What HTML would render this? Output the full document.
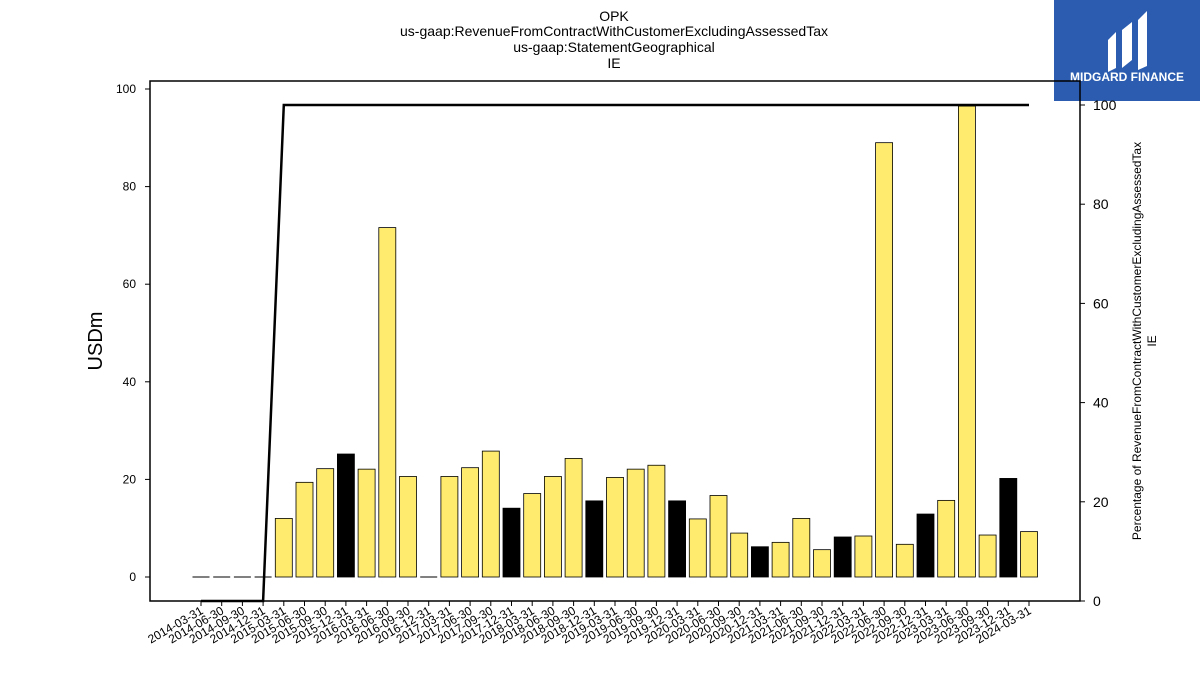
<!DOCTYPE html>
<html><head><meta charset="utf-8"><style>
body{margin:0;background:#fff;}
svg{display:block;font-family:"Liberation Sans","DejaVu Sans",sans-serif;}
</style></head><body>
<svg id="chart" width="1200" height="675" viewBox="0 0 1200 675">
<g font-size="14" text-anchor="middle" fill="#000">
<text x="614" y="21">OPK</text>
<text x="614" y="36">us-gaap:RevenueFromContractWithCustomerExcludingAssessedTax</text>
<text x="614" y="52">us-gaap:StatementGeographical</text>
<text x="614" y="68">IE</text>
</g>
<g>
<rect x="1054" y="0" width="146" height="101" fill="#2b5caf"/>
<path d="M1108 40 L1116 32 L1116 68 L1108 72 Z M1122 30 L1132 22 L1132 60 L1122 68 Z M1138 20 L1147 11 L1147 66 L1138 70 Z" fill="#fff"/>
<text x="1127" y="81" font-size="12" font-weight="bold" fill="#fff" text-anchor="middle">MIDGARD FINANCE</text>
</g>
<rect x="150" y="81" width="930" height="520" fill="none" stroke="#000" stroke-width="1.5"/>
<g id="bars"></g>
<g id="xaxis"></g>
<g id="yleft"></g>
<g id="yright"></g>
<path id="line" fill="none" stroke="#000" stroke-width="2.5"/>
<text x="102" y="341" font-size="20" text-anchor="middle" transform="rotate(-90 102 341)">USDm</text>
<text x="1141" y="341" font-size="12" text-anchor="middle" transform="rotate(-90 1141 341)">Percentage of RevenueFromContractWithCustomerExcludingAssessedTax</text>
<text x="1156" y="341" font-size="12" text-anchor="middle" transform="rotate(-90 1156 341)">IE</text>
</svg>
<script>
const categories=["2014-03-31","2014-06-30","2014-09-30","2014-12-31","2015-03-31","2015-06-30","2015-09-30","2015-12-31","2016-03-31","2016-06-30","2016-09-30","2016-12-31","2017-03-31","2017-06-30","2017-09-30","2017-12-31","2018-03-31","2018-06-30","2018-09-30","2018-12-31","2019-03-31","2019-06-30","2019-09-30","2019-12-31","2020-03-31","2020-06-30","2020-09-30","2020-12-31","2021-03-31","2021-06-30","2021-09-30","2021-12-31","2022-03-31","2022-06-30","2022-09-30","2022-12-31","2023-03-31","2023-06-30","2023-09-30","2023-12-31","2024-03-31"];
const values=[0,0,0,0,12,19.4,22.2,25.2,22.1,71.6,20.6,0,20.6,22.4,25.8,14.1,17.1,20.6,24.3,15.6,20.4,22.1,22.9,15.6,11.9,16.7,9,6.2,7.1,12,5.6,8.2,8.4,89,6.7,12.9,15.7,96.5,8.6,20.2,9.3];
const percent=[0,0,0,0,100,100,100,100,100,100,100,100,100,100,100,100,100,100,100,100,100,100,100,100,100,100,100,100,100,100,100,100,100,100,100,100,100,100,100,100,100];
const leftTicks=[0,20,40,60,80,100];
const rightTicks=[0,20,40,60,80,100];
const NS="http://www.w3.org/2000/svg";
const x=i=>201+i*(1029-201)/(categories.length-1);
const yL=v=>577-v*4.88;
const yR=v=>601-v*4.96;
function mk(t,a,p){const e=document.createElementNS(NS,t);for(const k in a)e.setAttribute(k,a[k]);p.appendChild(e);return e;}
const bars=document.getElementById('bars');
values.forEach((v,i)=>{
 const q4=categories[i].endsWith("12-31");
 let e;
 if(v===0){e=mk('line',{x1:x(i)-8.5,x2:x(i)+8.5,y1:yL(0),y2:yL(0),stroke:'#000','stroke-width':1},bars);}
 else{e=mk('rect',{x:x(i)-8.5,y:yL(v),width:17,height:yL(0)-yL(v),fill:q4?'#000':'#ffeb6e',stroke:'#000','stroke-width':0.8},bars);}
 
 
});
const xa=document.getElementById('xaxis');
categories.forEach((c,i)=>{
 mk('line',{x1:x(i),x2:x(i),y1:601,y2:606,stroke:'#000'},xa);
 const t=mk('text',{x:x(i)+3,y:613,'font-size':12,'text-anchor':'end',transform:`rotate(-30 ${x(i)+3} 613)`},xa);
 t.textContent=c;
 
 
});
const yl=document.getElementById('yleft');
leftTicks.forEach(v=>{
 mk('line',{x1:145,x2:150,y1:yL(v),y2:yL(v),stroke:'#000'},yl);
 const t=mk('text',{x:136,y:yL(v)+4,'font-size':12,'text-anchor':'end'},yl);
 t.textContent=v;
 
 
});
const yr=document.getElementById('yright');
rightTicks.forEach(v=>{
 mk('line',{x1:1080,x2:1085,y1:yR(v),y2:yR(v),stroke:'#000'},yr);
 const t=mk('text',{x:1093,y:yR(v)+5,'font-size':14},yr);
 t.textContent=v;
 
 
});
document.getElementById('line').setAttribute('d',percent.map((p,i)=>(i?'L':'M')+x(i)+' '+yR(p)).join(' '));
</script>
</body></html>
